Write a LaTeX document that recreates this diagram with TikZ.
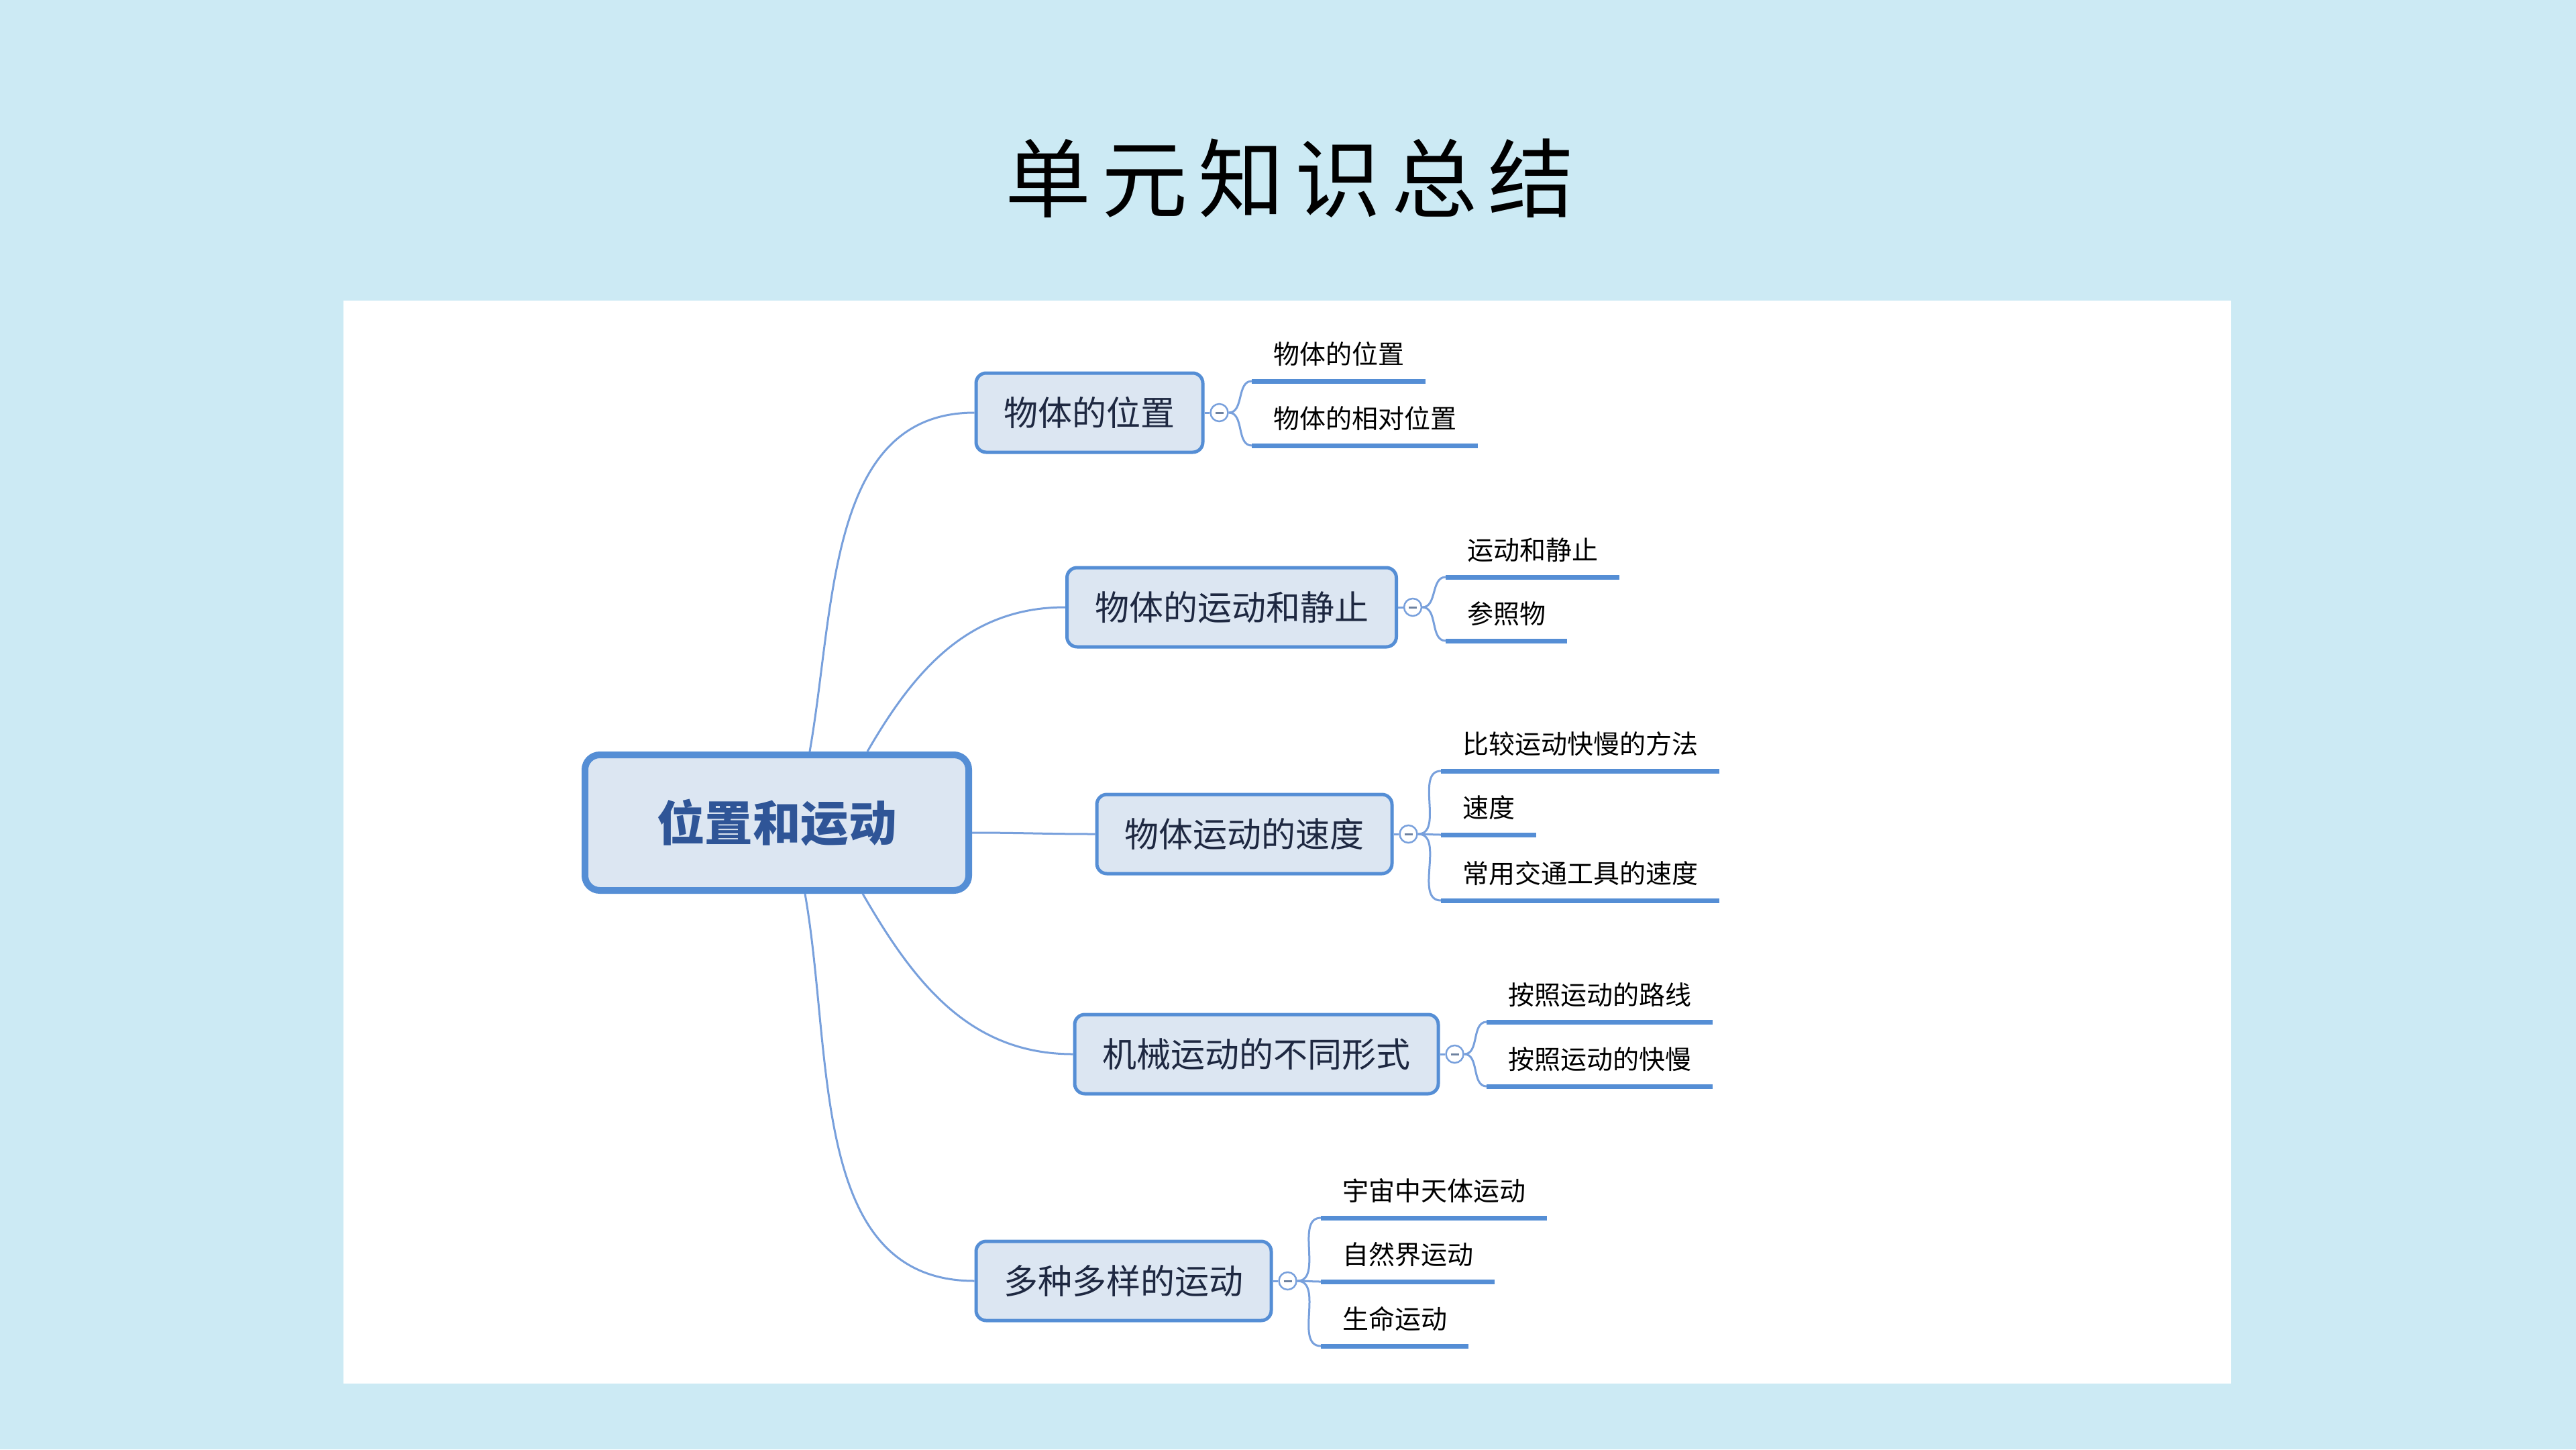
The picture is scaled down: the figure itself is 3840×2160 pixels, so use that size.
\documentclass[tikz,border=0pt]{standalone}
\usepackage{fontspec}
\newfontfamily\cjk{Noto Sans CJK SC}
\usetikzlibrary{calc}
\definecolor{bgc}{RGB}{204,234,244}
\definecolor{mfill}{RGB}{220,230,242}
\definecolor{mborder}{RGB}{85,142,213}
\definecolor{ctext}{RGB}{47,85,151}
\definecolor{mtext}{RGB}{30,40,65}
\definecolor{connc}{RGB}{120,160,220}
\definecolor{ulc}{RGB}{85,142,213}
\definecolor{minusc}{RGB}{110,130,160}
\tikzset{
  ctrbox/.style={draw=mborder, line width=10pt, fill=mfill, rounded corners=22pt,
    minimum width=572pt, minimum height=202pt, inner sep=0pt,
    font=\cjk\bfseries\fontsize{71.5}{78}\selectfont, text=ctext,
    text height=54.3pt, text depth=0pt},
  mainbox/.style={draw=mborder, line width=5pt, fill=mfill, rounded corners=15pt,
    minimum height=118pt, inner xsep=41.5pt, inner ysep=0pt,
    font=\cjk\fontsize{51}{56}\selectfont, text=mtext,
    text height=38.8pt, text depth=0pt},
  coll/.style={circle, draw=connc, line width=2.5pt, fill=white, minimum size=26pt, inner sep=0pt,
    path picture={\draw[minusc, line width=3pt]
      ([xshift=-6pt]path picture bounding box.center) -- ([xshift=6pt]path picture bounding box.center);}},
  leaf/.style={anchor=south west, inner xsep=32pt, inner ysep=0pt, minimum height=80pt,
    font=\cjk\fontsize{39}{43}\selectfont, text=black, text height=29.6pt, text depth=0pt},
  uline/.style={draw=ulc, line width=7pt},
  conn/.style={draw=connc, line width=3pt},
  titletext/.style={font=\cjk\fontsize{128}{140}\selectfont, text=black, inner sep=0pt}
}
\begin{document}
\begin{tikzpicture}[x=1pt,y=-1pt]
\useasboundingbox (0,0) rectangle (3840,2160);
\fill[bgc] (0,0) rectangle (3840,2160);
\fill[white] (512,448) rectangle (3326,2062);

\node[titletext] (title) at (1922,266) {单\hspace{16pt}元\hspace{16pt}知\hspace{16pt}识\hspace{16pt}总\hspace{16pt}结};

% central node
\node[ctrbox] (ctr) at (1158,1226) {位置和运动};

% main nodes
\node[mainbox] (m1) at (1624,615) {物体的位置};
\node[mainbox] (m2) at (1836,905) {物体的运动和静止};
\node[mainbox] (m3) at (1855,1243) {物体运动的速度};
\node[mainbox] (m4) at (1873,1571) {机械运动的不同形式};
\node[mainbox] (m5) at (1675,1909) {多种多样的运动};

% main connectors
\draw[conn] ($(ctr.north west)+(340,0)$) to[out=80,in=180] (m1.west);
\draw[conn] ($(ctr.north west)+(426,0)$) to[out=60,in=180] (m2.west);
\draw[conn] ($(ctr.east)+(0,15)$) to[out=0,in=180] (m3.west);
\draw[conn] ($(ctr.south west)+(419,0)$) to[out=-60,in=180] (m4.west);
\draw[conn] ($(ctr.south west)+(333,0)$) to[out=-80,in=180] (m5.west);

% collapse circles
\node[coll] (c1) at ($(m1.east)+(22,0)$) {};
\node[coll] (c2) at ($(m2.east)+(22,0)$) {};
\node[coll] (c3) at ($(m3.east)+(22,0)$) {};
\node[coll] (c4) at ($(m4.east)+(22,0)$) {};
\node[coll] (c5) at ($(m5.east)+(22,0)$) {};
\foreach \i in {1,...,5} {\draw[conn] (m\i.east) -- (c\i.west);}

% leaves
\node[leaf] (l11) at (1866,568) {物体的位置};
\node[leaf] (l12) at (1866,664) {物体的相对位置};
\node[leaf] (l21) at (2155,860) {运动和静止};
\node[leaf] (l22) at (2155,955) {参照物};
\node[leaf] (l31) at (2148,1149) {比较运动快慢的方法};
\node[leaf] (l32) at (2148,1244) {速度};
\node[leaf] (l33) at (2148,1342) {常用交通工具的速度};
\node[leaf] (l41) at (2216,1523) {按照运动的路线};
\node[leaf] (l42) at (2216,1619) {按照运动的快慢};
\node[leaf] (l51) at (1969,1815) {宇宙中天体运动};
\node[leaf] (l52) at (1969,1910) {自然界运动};
\node[leaf] (l53) at (1969,2006) {生命运动};

\foreach \p/\c in {l11/c1,l12/c1,l21/c2,l22/c2,l31/c3,l32/c3,l33/c3,l41/c4,l42/c4,l51/c5,l52/c5,l53/c5} {
  \draw[conn] (\c.east) to[out=0,in=180] (\p.south west);
  \draw[uline] (\p.south west) -- (\p.south east);
}
\end{tikzpicture}
\end{document}
